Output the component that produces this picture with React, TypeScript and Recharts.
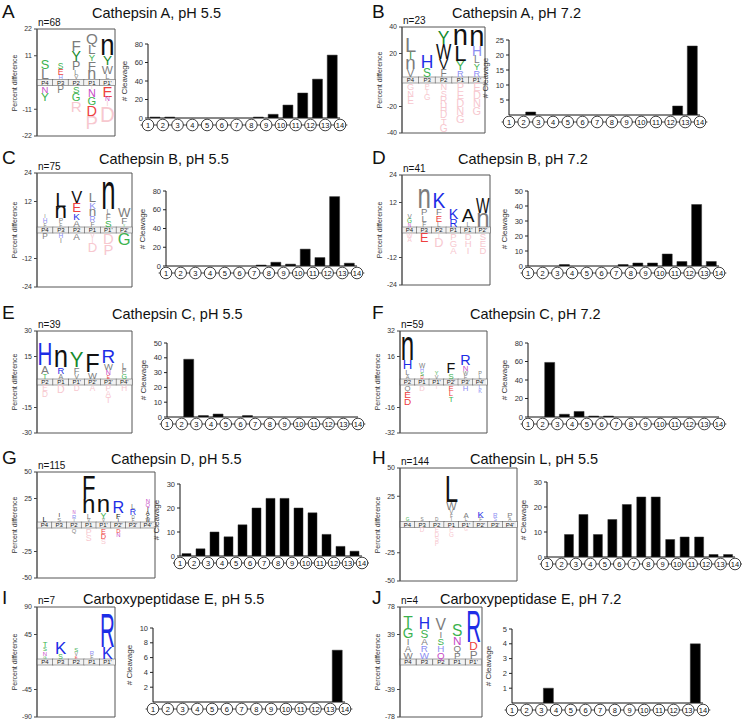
import React from "react";
import { BarChart, Bar, XAxis, YAxis, ReferenceArea } from "recharts";

const FONT = "'Liberation Sans', Arial, Helvetica, sans-serif";

// ---------- cleavage site counts (site between residue i and i+1) ----------
const cleavageA = [1, 1, 0, 0, 0, 0, 0, 1, 4, 14, 27, 42, 68];
const cleavageB = [0, 1, 0, 0, 0, 0, 0, 0, 0, 0, 0, 3, 23];
const cleavageC = [0, 0, 0, 0, 0, 0, 1, 4, 2, 18, 9, 74, 3];
const cleavageD = [0, 0, 1, 0, 0, 0, 1, 2, 2, 8, 3, 41, 3];
const cleavageE = [0, 39, 1, 2, 0, 1, 0, 0, 0, 0, 0, 0, 0];
const cleavageF = [0, 59, 3, 6, 1, 1, 0, 0, 0, 0, 0, 0, 0];
const cleavageG = [1, 3, 10, 8, 13, 20, 24, 24, 20, 18, 9, 4, 2];
const cleavageH = [0, 9, 17, 9, 15, 21, 24, 24, 7, 8, 8, 1, 1];
const cleavageI = [0, 0, 0, 0, 0, 0, 0, 0, 0, 0, 0, 0, 7];
const cleavageJ = [0, 0, 1, 0, 0, 0, 0, 0, 0, 0, 0, 0, 4];

const residues = [1, 2, 3, 4, 5, 6, 7, 8, 9, 10, 11, 12, 13, 14];

// ---------- logo data: [letter, percent difference, colour key] ----------
type Gl = [string, number, string];

const labels5 = ["P4", "P3", "P2", "P1", "P1'"];
const labels6 = ["P4", "P3", "P2", "P1", "P1'", "P2'"];
const labelsC = ["P2", "P1", "P1'", "P2'", "P3'", "P4'"];
const labels8 = ["P4", "P3", "P2", "P1", "P1'", "P2'", "P3'", "P4'"];

const upA: Gl[][] = [
  [["S", 3.8, "g"], ["L", 4.2, "d"]],
  [["S", 2.5, "g"], ["E", 2.6, "r"], ["H", 1.8, "lb"]],
  [["F", 4.5, "d"], ["Y", 4.2, "G"], ["P", 3.7, "d"], ["L", 2, "d"], ["V", 1.8, "d"]],
  [["Q", 4.5, "d"], ["L", 4, "d"], ["Y", 2.8, "g"], ["F", 4, "d"], ["n", 3.5, "d"]],
  [["n", 6.5, "k"], ["Y", 4, "G"], ["W", 3.5, "d"], ["L", 2.3, "d"]],
];
const downA: Gl[][] = [
  [["N", 2.8, "m"], ["Y", 3.5, "g"]],
  [["P", 3, "d"]],
  [["S", 2.9, "g"], ["G", 3.3, "g"], ["R", 4.5, "p"]],
  [["I", 1.5, "p"], ["N", 3.2, "m"], ["G", 3.3, "g"], ["D", 4.3, "r"], ["P", 5.5, "p"]],
  [["E", 4.4, "r"], ["N", 2, "m"], ["I", 2, "p"], ["D", 6.5, "p"]],
];

const upB: Gl[][] = [
  [["L", 11, "d"], ["T", 5.5, "G"], ["n", 7.5, "d"], ["V", 6, "d"]],
  [["H", 9.5, "b"], ["S", 6.5, "g"]],
  [["Y", 9.5, "G"], ["W", 12, "k"], ["V", 7.5, "k"], ["F", 5.5, "d"]],
  [["n", 12, "k"], ["L", 12, "k"], ["Y", 7, "g"], ["R", 5, "lb"]],
  [["n", 12, "k"], ["H", 7.5, "lb"], ["L", 5.5, "d"], ["Y", 5, "g"], ["R", 5, "lb"]],
];
const downB: Gl[][] = [
  [["G", 5, "p"], ["N", 5, "p"], ["E", 5.5, "p"]],
  [["P", 4, "p"], ["T", 4, "p"], ["G", 4.5, "p"]],
  [["N", 5, "p"], ["S", 5, "p"], ["R", 5.5, "p"], ["H", 5.5, "p"], ["D", 5.5, "p"], ["T", 5, "p"], ["G", 5.5, "p"]],
  [["P", 6, "p"], ["E", 6, "p"], ["D", 6, "p"], ["N", 6, "p"], ["G", 6, "p"]],
  [["E", 6, "p"], ["D", 6, "p"], ["N", 6, "p"], ["G", 6, "p"]],
];

const upC: Gl[][] = [
  [["I", 1.5, "d"], ["H", 2, "lb"], ["F", 1.5, "d"]],
  [["L", 6, "k"], ["n", 5, "k"], ["P", 2, "d"], ["F", 1.5, "d"]],
  [["V", 5, "k"], ["E", 4, "r"], ["K", 3, "b"], ["A", 3, "d"]],
  [["L", 4, "d"], ["K", 3, "lb"], ["n", 3, "d"], ["R", 2.5, "lb"], ["F", 2, "d"]],
  [["n", 11, "k"], ["L", 2, "d"], ["F", 2.5, "d"], ["S", 3, "g"]],
  [["W", 4, "d"], ["F", 3, "d"], ["Y", 1, "g"]],
];
const downC: Gl[][] = [
  [["P", 2.5, "d"]],
  [["H", 2, "lb"], ["I", 2, "d"]],
  [["A", 3, "d"]],
  [["V", 2, "p"], ["I", 2, "p"], ["D", 4, "p"]],
  [["D", 4.5, "p"], ["P", 4.5, "p"]],
  [["G", 5, "g"]],
];

const upD: Gl[][] = [
  [["V", 2, "d"], ["G", 2, "g"], ["N", 1.5, "m"]],
  [["n", 8, "d"], ["P", 3, "d"], ["L", 3, "d"], ["F", 2, "d"]],
  [["K", 7, "b"], ["F", 3, "d"], ["E", 3, "r"], ["L", 2, "d"]],
  [["K", 4.5, "b"], ["R", 3.5, "b"]],
  [["A", 6, "k"], ["L", 2, "d"]],
  [["W", 7, "k"], ["n", 6, "d"]],
];
const downD: Gl[][] = [
  [["W", 2, "p"], ["A", 2, "p"]],
  [["E", 4, "r"]],
  [["I", 2, "p"], ["D", 4, "p"]],
  [["P", 3, "p"], ["G", 3, "p"], ["A", 3, "p"]],
  [["D", 3, "p"], ["H", 3, "p"], ["I", 3, "p"]],
  [["S", 3, "p"], ["E", 3, "p"], ["D", 3, "p"]],
];

const upE: Gl[][] = [
  [["H", 13, "b"], ["A", 5, "d"], ["T", 3, "g"]],
  [["n", 9.5, "k"], ["R", 4, "b"], ["A", 3, "d"]],
  [["Y", 9, "G"], ["F", 4, "d"], ["V", 3, "d"]],
  [["F", 11, "k"], ["W", 4, "d"]],
  [["R", 8, "b"], ["W", 4, "d"], ["N", 3, "m"], ["E", 2, "r"]],
  [["L", 3.5, "d"], ["P", 3, "d"], ["G", 3, "g"]],
];
const downE: Gl[][] = [
  [["E", 3.5, "p"], ["D", 3.5, "p"]],
  [["D", 4.5, "p"]],
  [["D", 3.5, "p"]],
  [["A", 3.5, "p"]],
  [["P", 3.5, "p"], ["A", 3.5, "p"], ["T", 3.5, "p"]],
  [["H", 3.5, "p"]],
];

const upF: Gl[][] = [
  [["n", 14, "k"], ["H", 6, "b"], ["L", 3.5, "d"], ["A", 2.5, "d"]],
  [["W", 3, "d"], ["H", 2.5, "lb"], ["S", 2.5, "g"], ["D", 2, "r"]],
  [["Y", 2.5, "g"], ["V", 2.5, "d"]],
  [["F", 6.5, "k"], ["S", 3.5, "g"]],
  [["R", 6.5, "b"], ["N", 3.5, "m"], ["W", 2.5, "d"], ["F", 2.5, "d"]],
  [["P", 2.5, "d"], ["L", 2.5, "d"]],
];
const downF: Gl[][] = [
  [["Q", 3.5, "d"], ["E", 4.5, "r"], ["D", 4.5, "r"]],
  [["D", 3.5, "p"]],
  [["I", 2.5, "p"]],
  [["E", 3.5, "r"], ["L", 3.5, "r"], ["T", 3.5, "g"]],
  [["H", 3.5, "lb"]],
  [["L", 2.5, "lb"], ["K", 2.5, "lb"]],
];

const upG: Gl[][] = [
  [["L", 5, "k"]],
  [["I", 4, "k"], ["S", 4, "d"]],
  [["N", 3, "m"], ["R", 4, "lb"], ["I", 3, "d"]],
  [["F", 22, "k"], ["n", 13, "k"], ["L", 5, "d"], ["V", 3, "d"]],
  [["n", 12, "k"], ["Y", 6, "g"], ["V", 3, "d"]],
  [["R", 11, "b"], ["F", 5, "k"], ["I", 3, "k"]],
  [["L", 5, "d"], ["R", 6, "b"], ["D", 3, "d"], ["F", 3, "d"]],
  [["N", 4, "m"], ["Q", 4, "m"], ["I", 4, "k"], ["A", 4, "k"], ["F", 3, "k"], ["W", 3, "k"]],
];
const downG: Gl[][] = [
  [],
  [],
  [["Q", 4, "d"]],
  [["P", 6, "p"], ["S", 6, "p"]],
  [["E", 5, "r"], ["D", 5, "r"], ["S", 5, "p"]],
  [["D", 4, "r"], ["N", 4, "m"]],
  [],
  [],
];

const upH: Gl[][] = [
  [["G", 3, "g"]],
  [["S", 3, "d"]],
  [["D", 3, "d"]],
  [["L", 23, "k"], ["W", 7, "d"], ["V", 4, "d"], ["F", 3, "d"], ["I", 3, "d"]],
  [["A", 5, "d"], ["L", 3, "d"]],
  [["K", 6, "b"], ["F", 3, "d"]],
  [["R", 4, "lb"], ["S", 3, "lb"]],
  [["P", 5, "d"], ["A", 3, "d"]],
];
const downH: Gl[][] = [
  [],
  [["D", 4, "p"]],
  [["E", 4, "p"], ["D", 4, "p"], ["S", 4, "p"], ["P", 4, "p"]],
  [["P", 4, "p"], ["G", 4, "p"]],
  [["G", 3, "p"]],
  [],
  [],
  [],
];

const upI: Gl[][] = [
  [["T", 9, "g"], ["S", 7, "g"], ["N", 7, "m"], ["G", 5, "g"]],
  [["K", 20, "b"], ["S", 8, "g"]],
  [["S", 7, "g"], ["V", 6, "d"], ["E", 5, "r"]],
  [["R", 7, "lb"], ["F", 6, "d"]],
  [["R", 56, "b"], ["K", 19, "b"]],
];
const downI: Gl[][] = [[], [], [], [], []];

const upJ: Gl[][] = [
  [["T", 16, "g"], ["G", 14, "g"], ["I", 10, "d"], ["A", 10, "d"], ["W", 10, "d"]],
  [["H", 16, "b"], ["S", 12, "g"], ["A", 10, "d"], ["R", 10, "lb"], ["W", 10, "lb"]],
  [["V", 16, "d"], ["I", 10, "d"], ["S", 10, "g"], ["H", 10, "lb"], ["Q", 10, "m"]],
  [["S", 16, "g"], ["N", 12, "m"], ["Q", 10, "d"], ["P", 10, "d"]],
  [["R", 46, "b"], ["D", 12, "r"], ["P", 12, "d"]],
];
const downJ: Gl[][] = [[], [], [], [], []];

// ---------- styling ----------
const COLORS: Record<string, string> = {
  k: "#111111",
  d: "#7c7c7c",
  g: "#3bb24e",
  G: "#168a2c",
  b: "#1d2de6",
  lb: "#8b8df2",
  r: "#ee4040",
  m: "#c64ac6",
  p: "#f7c8cf",
};

const NAT_W: Record<string, number> = { I: 2.8, W: 9.4, M: 8.3, n: 5.6, L: 5.6, F: 6.1, T: 6.1, J: 5 };

function glyph(ch: string, h: number, color: string, cx: number, yb: number, colW: number, key: string) {
  const fs = 10;
  const capH = ch === "n" ? 5.3 : 7.2;
  const sy = h / capH;
  const natW = NAT_W[ch] ?? 7;
  const sx = Math.min(sy, (colW * 0.9) / natW);
  return (
    <text
      key={key}
      transform={`translate(${cx},${yb}) scale(${sx},${sy})`}
      textAnchor="middle"
      fontSize={fs}
      fontFamily={FONT}
      fill={COLORS[color] ?? color}
    >
      {ch}
    </text>
  );
}

const STRIP = 3;

const LogoColumn = (props: any) => {
  const { x, y, width, height, payload } = props;
  if (!payload) return null;
  const [lo, hi] = payload.range as [number, number];
  const span = hi - lo;
  const ppu = span > 0 ? height / span : 0;
  const zeroY = y + hi * ppu;
  const cx = x + width / 2;
  const out: React.ReactNode[] = [];
  let yb = zeroY - STRIP - 0.3;
  const ups: Gl[] = payload.up;
  for (let i = ups.length - 1; i >= 0; i--) {
    const [ch, v, c] = ups[i];
    const h = v * ppu;
    out.push(glyph(ch, h, c, cx, yb, width, `u${i}`));
    yb -= h;
  }
  let yt = zeroY + STRIP + 0.3;
  const downs: Gl[] = payload.down;
  downs.forEach(([ch, v, c], i) => {
    const h = v * ppu;
    out.push(glyph(ch, h, c, cx, yt + h, width, `d${i}`));
    yt += h;
  });
  return (
    <g>
      <rect x={x} y={zeroY - STRIP} width={width} height={STRIP * 2} fill="#f2f2f2" stroke="#666" strokeWidth={0.6} />
      <text x={cx} y={zeroY + 2.2} fontSize={6} textAnchor="middle" fontFamily={FONT} fill="#222">
        {payload.label}
      </text>
      {out}
    </g>
  );
};

function sum(a: Gl[]) {
  return a.reduce((s, g) => s + g[1], 0);
}

function LogoChart(p: {
  labels: string[];
  up: Gl[][];
  down: Gl[][];
  M: number;
  box: [number, number, number, number];
  n: number;
}) {
  const [l, r, t, b] = p.box;
  const YW = 26;
  const PT = 16;
  const PB = 6;
  const W = r - l + YW + 2;
  const H = b - t + PT + PB;
  const rows = p.labels.map((label, i) => ({
    label,
    up: p.up[i],
    down: p.down[i],
    range: [-sum(p.down[i]) - 0.01, sum(p.up[i]) + 0.01],
  }));
  const M = p.M;
  return (
    <>
      <div style={{ position: "absolute", left: l - YW, top: t - PT, width: W, height: H }}>
        <BarChart width={W} height={H} data={rows} margin={{ top: PT, right: 2, bottom: PB, left: 0 }} barCategoryGap={0}>
          <XAxis dataKey="label" hide />
          <YAxis
            type="number"
            domain={[-M, M]}
            ticks={[-M, -M / 2, M / 2, M]}
            interval={0}
            allowDataOverflow
            width={YW}
            tickSize={3}
            tickLine={{ stroke: "#444" }}
            axisLine={{ stroke: "#555" }}
            tick={{ fontSize: 7, fill: "#333", fontFamily: FONT }}
          />
          <ReferenceArea y1={-M} y2={M} fill="none" stroke="#555" strokeWidth={1} ifOverflow="visible" />
          <Bar dataKey="range" shape={<LogoColumn />} isAnimationActive={false} />
        </BarChart>
      </div>
      <div
        style={{
          position: "absolute",
          left: l - 22 - 60,
          top: (t + b) / 2 - 6,
          width: 120,
          textAlign: "center",
          fontSize: 7,
          color: "#333",
          fontFamily: FONT,
          transform: "rotate(-90deg)",
          lineHeight: "12px",
        }}
      >
        Percent difference
      </div>
      <div style={{ position: "absolute", left: l + 1, top: t - 12, fontSize: 10, lineHeight: "11px", fontFamily: FONT, color: "#111" }}>
        n={p.n}
      </div>
    </>
  );
}

const CircleTick = (props: any) => {
  const { x, y, payload, spacing } = props;
  const cy = y + 7;
  const half = spacing / 2;
  return (
    <g>
      <line x1={x - half} x2={x + half} y1={cy} y2={cy} stroke="#111" strokeWidth={0.8} />
      <circle cx={x} cy={cy} r={5.8} fill="#fff" stroke="#111" strokeWidth={0.8} />
      <text x={x} y={cy + 2.8} textAnchor="middle" fontSize={7.5} fontFamily={FONT} fill="#111">
        {payload.value}
      </text>
    </g>
  );
};

function CleavageChart(p: { data: number[]; ticks: number[]; max: number; box: [number, number, number, number] }) {
  const [l, r, t, b] = p.box;
  const ML = 30;
  const MR = 10;
  const MT = 6;
  const MB = 18;
  const plotW = r - l;
  const plotH = b - t;
  const W = plotW + ML + MR;
  const H = plotH + MT + MB;
  const spacing = plotW / 13;
  const rows = p.data.map((v, i) => ({ site: i + 1.5, v }));
  return (
    <>
      <div style={{ position: "absolute", left: l - ML, top: t - MT, width: W, height: H }}>
        <BarChart width={W} height={H} data={rows} margin={{ top: MT, right: MR, bottom: 0, left: ML - 28 }}>
          <XAxis
            type="number"
            dataKey="site"
            domain={[1, 14]}
            ticks={residues}
            interval={0}
            tickLine={false}
            tickSize={0}
            tickMargin={0}
            axisLine={{ stroke: "#111", strokeWidth: 1 }}
            tick={<CircleTick spacing={spacing} />}
            height={MB}
          />
          <YAxis
            type="number"
            domain={[0, p.max]}
            ticks={p.ticks}
            interval={0}
            allowDataOverflow
            width={28}
            tickSize={3}
            tickLine={{ stroke: "#222" }}
            axisLine={{ stroke: "#111" }}
            tick={{ fontSize: 7.5, fill: "#333", fontFamily: FONT }}
          />
          <Bar dataKey="v" fill="#000" stroke="#333" strokeWidth={0.5} barSize={Math.round(spacing * 0.65)} isAnimationActive={false} />
        </BarChart>
      </div>
      <div
        style={{
          position: "absolute",
          left: l - 23 - 40,
          top: (t + b) / 2 - 6,
          width: 80,
          textAlign: "center",
          fontSize: 8,
          color: "#333",
          fontFamily: FONT,
          transform: "rotate(-90deg)",
          lineHeight: "12px",
        }}
      >
        # Cleavage
      </div>
    </>
  );
}

type Panel = {
  letter: string;
  title: string;
  lx: number;
  tx: number;
  base: number;
  n: number;
  labels: string[];
  up: Gl[][];
  down: Gl[][];
  M: number;
  logoBox: [number, number, number, number];
  data: number[];
  ticks: number[];
  max: number;
  barBox: [number, number, number, number];
};

const panels: Panel[] = [
  { letter: "A", title: "Cathepsin A, pH 5.5", lx: 2, tx: 92, base: 19, n: 68, labels: labels5, up: upA, down: downA, M: 22, logoBox: [37, 115, 29, 136], data: cleavageA, ticks: [0, 20, 40, 60, 80], max: 80, barBox: [148, 340, 44, 118] },
  { letter: "B", title: "Cathepsin A, pH 7.2", lx: 372, tx: 452, base: 19, n: 23, labels: labels5, up: upB, down: downB, M: 40, logoBox: [402, 485, 27, 133], data: cleavageB, ticks: [5, 10, 15, 20, 25], max: 25, barBox: [509, 700, 40, 115] },
  { letter: "C", title: "Cathepsin B, pH 5.5", lx: 2, tx: 99, base: 165, n: 75, labels: labels6, up: upC, down: downC, M: 24, logoBox: [37, 132, 173, 287], data: cleavageC, ticks: [0, 20, 40, 60, 80], max: 80, barBox: [166, 357, 191, 266] },
  { letter: "D", title: "Cathepsin B, pH 7.2", lx: 372, tx: 458, base: 165, n: 41, labels: labels6, up: upD, down: downD, M: 24, logoBox: [402, 490, 175, 285], data: cleavageD, ticks: [0, 10, 20, 30, 40, 50], max: 50, barBox: [528, 719, 191, 266] },
  { letter: "E", title: "Cathepsin C, pH 5.5", lx: 2, tx: 112, base: 320, n: 39, labels: labelsC, up: upE, down: downE, M: 30, logoBox: [37, 132, 331, 433], data: cleavageE, ticks: [0, 10, 20, 30, 40, 50], max: 50, barBox: [167, 358, 343, 417] },
  { letter: "F", title: "Cathepsin C, pH 7.2", lx: 372, tx: 470, base: 320, n: 59, labels: labelsC, up: upF, down: downF, M: 32, logoBox: [400, 487, 331, 433], data: cleavageF, ticks: [0, 20, 40, 60, 80], max: 80, barBox: [528, 719, 343, 417] },
  { letter: "G", title: "Cathepsin D, pH 5.5", lx: 2, tx: 111, base: 465, n: 115, labels: labels8, up: upG, down: downG, M: 50, logoBox: [37, 155, 472, 578], data: cleavageG, ticks: [0, 10, 20, 30], max: 30, barBox: [180, 362, 484, 556] },
  { letter: "H", title: "Cathepsin L, pH 5.5", lx: 372, tx: 470, base: 465, n: 144, labels: labels8, up: upH, down: downH, M: 50, logoBox: [400, 517, 468, 581], data: cleavageH, ticks: [0, 10, 20, 30], max: 30, barBox: [547, 735, 482, 557] },
  { letter: "I", title: "Carboxypeptidase E, pH 5.5", lx: 2, tx: 83, base: 605, n: 7, labels: labels5, up: upI, down: downI, M: 90, logoBox: [37, 115, 607, 717], data: cleavageI, ticks: [2, 4, 6, 8, 10], max: 10, barBox: [153, 345, 628, 702] },
  { letter: "J", title: "Carboxypeptidase E, pH 7.2", lx: 372, tx: 440, base: 605, n: 4, labels: labels5, up: upJ, down: downJ, M: 78, logoBox: [400, 482, 607, 717], data: cleavageJ, ticks: [1, 2, 3, 4, 5], max: 5, barBox: [512, 703, 629, 703] },
];

export default function App() {
  return (
    <div
      style={{
        position: "absolute",
        left: 0,
        top: 0,
        width: 742,
        height: 727,
        background: "#fff",
        overflow: "hidden",
        fontFamily: FONT,
      }}
    >
      {panels.map((p) => (
        <React.Fragment key={p.letter}>
          <div style={{ position: "absolute", left: p.lx, top: p.base - 18, fontSize: 19, lineHeight: "22px", color: "#111" }}>
            {p.letter}
          </div>
          <div style={{ position: "absolute", left: p.tx, top: p.base - 14, fontSize: 14.5, lineHeight: "17px", color: "#111", whiteSpace: "nowrap" }}>
            {p.title}
          </div>
          <LogoChart labels={p.labels} up={p.up} down={p.down} M={p.M} box={p.logoBox} n={p.n} />
          <CleavageChart data={p.data} ticks={p.ticks} max={p.max} box={p.barBox} />
        </React.Fragment>
      ))}
    </div>
  );
}
